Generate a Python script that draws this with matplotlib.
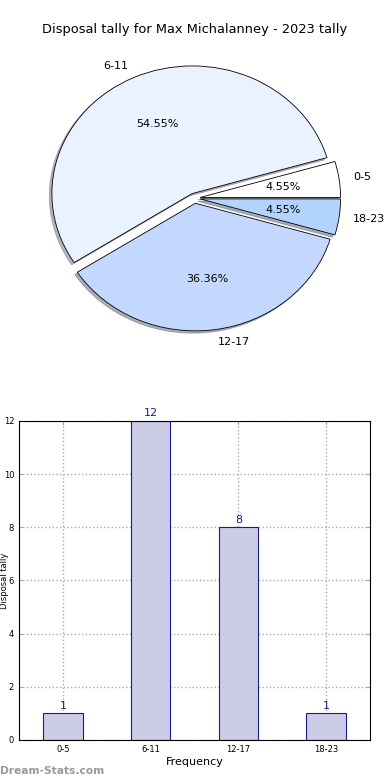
import matplotlib
matplotlib.use("Agg")
import matplotlib.pyplot as plt

categories = ["0-5", "6-11", "12-17", "18-23"]
counts = [1, 12, 8, 1]
pie_colors = ["#FFFFFF", "#EAF1FF", "#C4D8FF", "#B3D4FF"]
title = "Disposal tally for Max Michalanney - 2023 tally"
yticks = [0, 2, 4, 6, 8, 10, 12]

plt.rcParams['font.family'] = ['DejaVu Sans']
fig = plt.figure(figsize=(3.9, 7.8), dpi=100)

# Pie
axp = fig.add_axes([0.049, 0.5414, 0.9, 0.409])
wedges, texts, autotexts = axp.pie(
    counts, labels=categories, colors=pie_colors, explode=[0.04] * 4,
    autopct='%1.2f%%', shadow={'ox': -0.013, 'oy': -0.013, 'shade': 0.55},
    startangle=0, counterclock=True,
    wedgeprops=dict(edgecolor='black', linewidth=0.6),
    textprops=dict(fontsize=8))
axp.set_aspect('auto')
axp.set_xlim(-1.25, 1.25)
axp.set_ylim(-1.25, 1.25)
fig.text(0.5, 1 - 30 / 780, title, ha='center', va='center', fontsize=9.4)

# Bars
axb = fig.add_axes([0.0487, 0.0513, 0.9, 0.409])
x = list(range(len(categories)))
bars = axb.bar(x, counts, width=0.45, color='#CCCCE6', edgecolor='#1A1A8C',
               linewidth=0.8, zorder=2)
for xi, c in zip(x, counts):
    axb.text(xi, c + 0.1, str(c), ha='center', va='bottom', color='#1A1A8C',
             fontsize=8)
axb.set_xlim(-0.5, 3.5)
axb.set_ylim(0, 12)
axb.set_xticks(x)
axb.set_xticklabels(categories)
axb.set_yticks(yticks)
axb.tick_params(axis='both', labelsize=6, direction='in', top=True, right=True,
                length=3, width=0.6, colors='#999999', labelcolor='black')
axb.grid(True, linestyle=':', color='#AAAAAA', linewidth=1, zorder=0)
axb.set_axisbelow(True)
axb.set_xlabel("Frequency", fontsize=8, labelpad=2)
axb.set_ylabel("Disposal tally", fontsize=6)
axb.yaxis.set_label_coords(-0.029, 0.5)
for s in axb.spines.values():
    s.set_linewidth(0.8)

fig.text(0.0, 1 - 771 / 780, "Dream-Stats.com", ha='left', va='center',
         fontsize=7.7, color='#999999', fontweight='bold')

fig.savefig("out.png", dpi=100)
